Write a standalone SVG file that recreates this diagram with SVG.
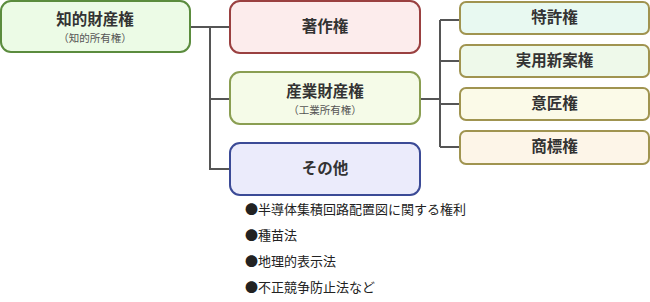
<svg xmlns="http://www.w3.org/2000/svg" width="650" height="302" viewBox="0 0 650 302">
<style>
.box{stroke-width:2}
.t{font-family:"Noto Sans CJK JP","Noto Sans CJK SC",sans-serif;font-weight:bold;font-size:15.5px;fill:#333;text-anchor:middle}
.s{font-family:"Noto Sans CJK JP","Noto Sans CJK SC",sans-serif;font-size:10.5px;fill:#555;text-anchor:middle}
.b{font-family:"Noto Sans CJK JP","Noto Sans CJK SC",sans-serif;font-size:13px;fill:#222}
.c{fill:none;stroke:#555;stroke-width:2}
</style>
<rect width="650" height="302" fill="#fff"/>
<g id="connectors">
<path class="c" d="M190 27H230M210 27V169H230M210 99H230"/>
<path class="c" d="M420 99H440M440 20V147M440 20H460M440 61H460M440 104H460M440 147H460"/>
</g>
<g id="n-chiteki">
<rect class="box" x="1" y="1" width="189" height="51" rx="10" fill="#ecfbe6" stroke="#5b8c3e"/>
<text class="t" x="95" y="25">知的財産権</text>
<text class="s" x="95" y="42">（知的所有権）</text>
</g>
<g id="n-chosaku">
<rect class="box" x="230" y="1" width="190" height="52" rx="10" fill="#fcecec" stroke="#9a4040"/>
<text class="t" x="325" y="32">著作権</text>
</g>
<g id="n-sangyo">
<rect class="box" x="230" y="72" width="190" height="52" rx="10" fill="#f5fbe8" stroke="#8a9e52"/>
<text class="t" x="325" y="97">産業財産権</text>
<text class="s" x="325" y="114">（工業所有権）</text>
</g>
<g id="n-sonota">
<rect class="box" x="230" y="143" width="190" height="52" rx="10" fill="#ebebfb" stroke="#3b4a96"/>
<text class="t" x="325" y="174">その他</text>
</g>
<g id="n-tokkyo">
<rect class="box" x="460" y="2" width="189" height="32" rx="6" fill="#e8f9f1" stroke="#a09450"/>
<text class="t" x="554.5" y="23">特許権</text>
</g>
<g id="n-jitsuyo">
<rect class="box" x="460" y="45" width="189" height="32" rx="6" fill="#eef9ea" stroke="#a09450"/>
<text class="t" x="554.5" y="66">実用新案権</text>
</g>
<g id="n-isho">
<rect class="box" x="460" y="88" width="189" height="32" rx="6" fill="#fbfae8" stroke="#a09450"/>
<text class="t" x="554.5" y="109">意匠権</text>
</g>
<g id="n-shohyo">
<rect class="box" x="460" y="131" width="189" height="33" rx="6" fill="#fdf5e8" stroke="#a09450"/>
<text class="t" x="554.5" y="152">商標権</text>
</g>
<g id="list">
<text class="b" x="245" y="214">●半導体集積回路配置図に関する権利</text>
<text class="b" x="245" y="240">●種苗法</text>
<text class="b" x="245" y="266">●地理的表示法</text>
<text class="b" x="245" y="292">●不正競争防止法など</text>
</g>
</svg>
